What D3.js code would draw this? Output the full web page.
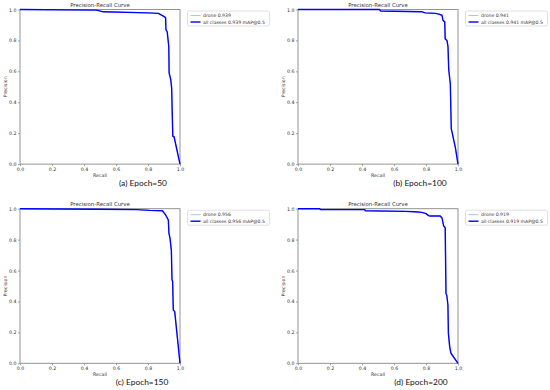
<!DOCTYPE html>
<html>
<head>
<meta charset="utf-8">
<script src="https://cdn.jsdelivr.net/npm/d3@7"></script>
<style>
  html, body { margin: 0; padding: 0; background: #fff; }
  svg { display: block; }
  .tick text { font-family: "DejaVu Sans", sans-serif; }
</style>
</head>
<body>
<svg id="chart" width="550" height="390"></svg>
<script>
// PR curves (recall, precision)
const recall50    = [0, 0.48, 0.52, 0.80, 0.865, 0.896, 0.91, 0.912, 0.92, 0.93, 0.932, 0.942, 0.948, 0.952, 0.955, 0.963, 1.0];
const precision50 = [1, 0.996, 0.985, 0.978, 0.975, 0.957, 0.948, 0.87, 0.856, 0.76, 0.59, 0.547, 0.49, 0.306, 0.18, 0.177, 0];

const recall100    = [0, 0.51, 0.515, 0.775, 0.796, 0.858, 0.88, 0.90, 0.906, 0.917, 0.92, 0.931, 0.9375, 0.942, 0.952, 0.958, 0.983, 1.0];
const precision100 = [1, 1, 0.99, 0.985, 0.978, 0.975, 0.97, 0.963, 0.93, 0.92, 0.81, 0.80, 0.76, 0.61, 0.52, 0.23, 0.11, 0];

const recall150    = [0, 0.48, 0.73, 0.81, 0.89, 0.91, 0.927, 0.931, 0.9375, 0.946, 0.95, 0.954, 0.958, 0.967, 1.0];
const precision150 = [1, 0.996, 0.994, 0.989, 0.987, 0.96, 0.927, 0.84, 0.81, 0.73, 0.54, 0.53, 0.345, 0.334, 0];

const recall200    = [0, 0.136, 0.14, 0.418, 0.42, 0.67, 0.73, 0.774, 0.80, 0.816, 0.826, 0.889, 0.90, 0.91, 0.92, 0.925, 0.93, 0.937, 0.94, 0.948, 0.956, 1.0];
const precision200 = [1, 1, 0.994, 0.994, 0.987, 0.983, 0.98, 0.976, 0.968, 0.955, 0.953, 0.953, 0.94, 0.89, 0.877, 0.45, 0.44, 0.377, 0.194, 0.108, 0.065, 0];

const captions = ['(a) Epoch=50', '(b) Epoch=100', '(c) Epoch=150', '(d) Epoch=200'];
const mapValues = ['0.939', '0.941', '0.956', '0.919'];
const tickValues = [0, 0.2, 0.4, 0.6, 0.8, 1.0];

const panels = [
  { rec: recall50,  prec: precision50,  left: 20,  top: 9.5 },
  { rec: recall100, prec: precision100, left: 298, top: 9.5 },
  { rec: recall150, prec: precision150, left: 20,  top: 208.7 },
  { rec: recall200, prec: precision200, left: 298, top: 208.7 }
];
const PW = 160, PH = 154.6;
const CAPTION_X = [143, 420, 142, 421];

const svg = d3.select('#chart');

panels.forEach((p, k) => {
  const g = svg.append('g').attr('transform', `translate(${p.left},${p.top})`);
  const x = d3.scaleLinear().domain([0, 1]).range([0, PW]);
  const y = d3.scaleLinear().domain([0, 1]).range([PH, 0]);

  const xAxis = g.append('g').attr('transform', `translate(0,${PH})`)
    .call(d3.axisBottom(x).tickValues(tickValues).tickFormat(d3.format('.1f')).tickSize(2).tickPadding(1.5));
  const yAxis = g.append('g')
    .call(d3.axisLeft(y).tickValues(tickValues).tickFormat(d3.format('.1f')).tickSize(2).tickPadding(1.5));
  [xAxis, yAxis].forEach(a => {
    a.select('.domain').remove();
    a.selectAll('line').attr('stroke', '#666').attr('stroke-width', 0.6);
    a.selectAll('text').attr('font-size', 4.7).attr('fill', '#333');
  });

  g.append('rect')
    .attr('width', PW).attr('height', PH)
    .attr('fill', 'none').attr('stroke', '#888').attr('stroke-width', 0.9);

  const pts = p.rec.map((r, i) => [r, p.prec[i]]);
  const line = d3.line().x(d => x(d[0])).y(d => y(d[1]));

  g.append('path').datum(pts).attr('d', line)
    .attr('fill', 'none').attr('stroke', '#7fb0e8').attr('stroke-width', 0.6);
  g.append('path').datum(pts).attr('d', line)
    .attr('fill', 'none').attr('stroke', '#0000ff').attr('stroke-width', 1.4)
    .attr('stroke-linejoin', 'round');

  g.append('text').attr('x', PW / 2).attr('y', -2.5).attr('text-anchor', 'middle')
    .attr('font-family', 'DejaVu Sans').attr('font-size', 5.4).attr('fill', '#333')
    .text('Precision-Recall Curve');
  g.append('text').attr('x', PW / 2).attr('y', PH + 12.5).attr('text-anchor', 'middle')
    .attr('font-family', 'DejaVu Sans').attr('font-size', 4.7).attr('fill', '#333')
    .text('Recall');
  g.append('text').attr('transform', `translate(${-13},${PH / 2}) rotate(-90)`)
    .attr('text-anchor', 'middle')
    .attr('font-family', 'DejaVu Sans').attr('font-size', 4.7).attr('fill', '#333')
    .text('Precision');

  // legend
  const lg = g.append('g').attr('transform', `translate(${PW + 7.5},${1.5})`);
  lg.append('rect').attr('width', 82).attr('height', 15).attr('rx', 1.5)
    .attr('fill', '#fff').attr('stroke', '#ccc').attr('stroke-width', 0.6);
  lg.append('line').attr('x1', 3).attr('x2', 13).attr('y1', 4.5).attr('y2', 4.5)
    .attr('stroke', '#7fb0e8').attr('stroke-width', 0.7);
  lg.append('line').attr('x1', 3).attr('x2', 13).attr('y1', 11).attr('y2', 11)
    .attr('stroke', '#0000ff').attr('stroke-width', 1.4);
  lg.append('text').attr('x', 15.5).attr('y', 6.1)
    .attr('font-family', 'DejaVu Sans').attr('font-size', 4.6).attr('fill', '#333')
    .text(`drone ${mapValues[k]}`);
  lg.append('text').attr('x', 15.5).attr('y', 12.6)
    .attr('font-family', 'DejaVu Sans').attr('font-size', 4.6).attr('fill', '#333')
    .text(`all classes ${mapValues[k]} mAP@0.5`);

  svg.append('text')
    .attr('x', CAPTION_X[k]).attr('y', p.top + PH + 22)
    .attr('text-anchor', 'middle')
    .attr('font-family', 'Lato, "Open Sans", sans-serif').attr('font-size', 8.4).attr('fill', '#111')
    .text(captions[k]);
});
</script>
</body>
</html>
